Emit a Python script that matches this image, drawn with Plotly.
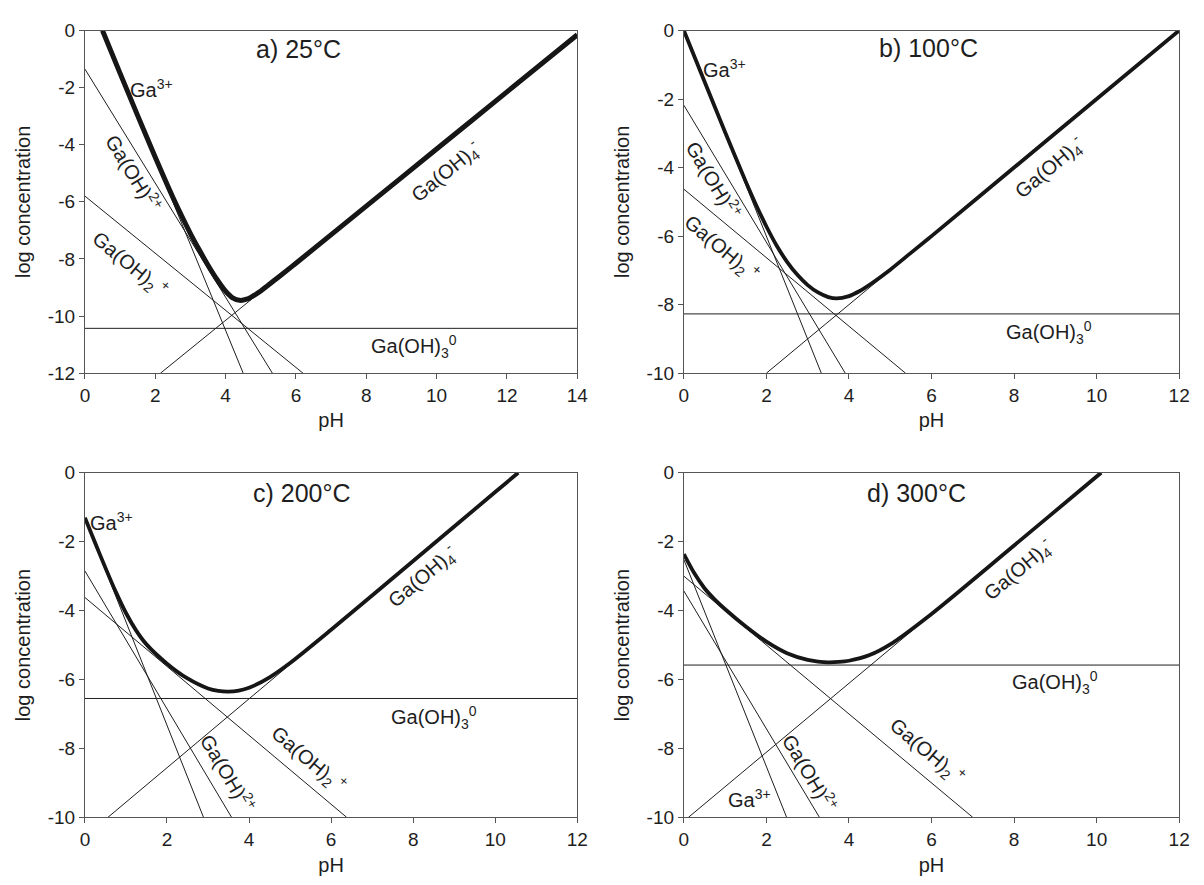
import plotly.graph_objects as go

FONT = "Liberation Sans, Arial, sans-serif"
INK = "#1e1e1e"

# ---------------- data ----------------
# Panel a) 25 °C : species lines given by their two end points
a_ga3_ph, a_ga3_logc = [0.5, 4.5], [0.0, -12.0]
a_gaoh_ph, a_gaoh_logc = [0.0, 5.33], [-1.35, -12.0]
a_gaoh2_ph, a_gaoh2_logc = [0.0, 6.2], [-5.8, -12.0]
a_gaoh3_ph, a_gaoh3_logc = [0.0, 14.0], [-10.43, -10.43]
a_gaoh4_ph, a_gaoh4_logc = [2.15, 14.0], [-12.0, -0.15]
a_total_ph = [0.5, 1.0, 1.5, 2.0, 2.5, 3.0, 3.25, 3.5, 3.75, 4.0, 4.2, 4.4, 4.6,
              4.8, 5.0, 5.2, 5.5, 6.0, 8.0, 10.0, 12.0, 14.0]
a_total_logc = [0.0, -1.5, -2.98, -4.44, -5.84, -7.11, -7.68, -8.22, -8.71, -9.13,
                -9.36, -9.45, -9.41, -9.28, -9.12, -8.93, -8.64, -8.15, -6.15, -4.15,
                -2.15, -0.15]

# Panel b) 100 °C
b_ga3_ph, b_ga3_logc = [0.0, 3.33], [0.0, -10.0]
b_gaoh_ph, b_gaoh_logc = [0.0, 3.91], [-2.18, -10.0]
b_gaoh2_ph, b_gaoh2_logc = [0.0, 5.37], [-4.63, -10.0]
b_gaoh3_ph, b_gaoh3_logc = [0.0, 12.0], [-8.27, -8.27]
b_gaoh4_ph, b_gaoh4_logc = [2.0, 12.0], [-10.0, 0.0]
b_total_ph = [0.0, 0.5, 1.0, 1.5, 1.75, 2.0, 2.25, 2.5, 2.75, 3.0, 3.25, 3.5, 3.7,
              4.0, 4.25, 4.5, 5.0, 5.5, 6.0, 8.0, 10.0, 12.0]
b_total_logc = [0.0, -1.49, -2.97, -4.41, -5.09, -5.72, -6.28, -6.75, -7.13, -7.43,
                -7.645, -7.78, -7.82, -7.75, -7.61, -7.42, -6.98, -6.49, -6.0, -4.0,
                -2.0, 0.0]

# Panel c) 200 °C
c_ga3_ph, c_ga3_logc = [0.0, 2.89], [-1.32, -10.0]
c_gaoh_ph, c_gaoh_logc = [0.0, 3.575], [-2.85, -10.0]
c_gaoh2_ph, c_gaoh2_logc = [0.0, 6.38], [-3.62, -10.0]
c_gaoh3_ph, c_gaoh3_logc = [0.0, 12.0], [-6.55, -6.55]
c_gaoh4_ph, c_gaoh4_logc = [0.56, 10.56], [-10.0, 0.0]
c_total_ph = [0.0, 0.25, 0.5, 0.75, 1.0, 1.25, 1.5, 2.0, 2.5, 3.0, 3.25, 3.5, 3.75,
              4.0, 4.5, 5.0, 6.0, 8.0, 10.0, 10.56]
c_total_logc = [-1.305, -2.04, -2.76, -3.45, -4.07, -4.58, -4.98, -5.54, -5.97, -6.26,
                -6.33, -6.35, -6.32, -6.24, -5.935, -5.52, -4.556, -2.56, -0.56, 0.0]

# Panel d) 300 °C
d_ga3_ph, d_ga3_logc = [0.0, 2.49], [-2.52, -10.0]
d_gaoh_ph, d_gaoh_logc = [0.0, 3.285], [-3.43, -10.0]
d_gaoh2_ph, d_gaoh2_logc = [0.0, 7.0], [-3.0, -10.0]
d_gaoh3_ph, d_gaoh3_logc = [0.0, 12.0], [-5.58, -5.58]
d_gaoh4_ph, d_gaoh4_logc = [0.11, 10.11], [-10.0, 0.0]
d_total_ph = [0.0, 0.25, 0.5, 0.75, 1.0, 1.5, 2.0, 2.5, 3.0, 3.25, 3.5, 3.75, 4.0,
              4.5, 5.0, 6.0, 8.0, 10.0, 10.11]
d_total_logc = [-2.36, -2.91, -3.35, -3.68, -3.96, -4.46, -4.90, -5.235, -5.43, -5.478,
                -5.50, -5.489, -5.455, -5.29, -4.98, -4.096, -2.11, -0.11, 0.0]

panel_titles = ["a) 25°C", "b) 100°C", "c) 200°C", "d) 300°C"]
panel_title_x = [6.06, 5.93, 5.29, 5.64]
panel_title_y = [-0.65, -0.5, -0.59, -0.59]

x_max = [14, 12, 12, 12]
y_min = [-12, -10, -10, -10]
y_tick_vals_a = [0, -2, -4, -6, -8, -10, -12]
y_tick_vals_bcd = [0, -2, -4, -6, -8, -10]

# species label texts
label_texts = ["Ga<sup>3+</sup>", "Ga(OH)<sup>2+</sup>", "Ga(OH)<sub>2</sub><sup> +</sup>",
               "Ga(OH)<sub>3</sub><sup>0</sup>", "Ga(OH)<sub>4</sub><sup>-</sup>"]
# label positions per panel (pH, logC, angle)
lab_a = [(1.88, -2.02, 0), (1.40, -4.99, 58.7), (1.29, -8.2, 39.4), (9.37, -11.08, 0), (10.27, -4.95, -39.4)]
lab_b = [(0.98, -1.11, 0), (0.74, -4.36, 59.2), (0.93, -6.35, 40.0), (8.85, -8.8, 0), (8.85, -3.99, -40.0)]
lab_c = [(0.65, -1.42, 0), (3.51, -8.69, 59.5), (5.46, -8.31, 40.3), (8.5, -7.1, 0), (8.23, -3.0, -40.3)]
lab_d = [(1.58, -9.46, 0), (3.08, -8.69, 59.4), (5.9, -8.1, 40.2), (9.0, -6.1, 0), (8.1, -2.8, -40.2)]

panels = [
    dict(species=[(a_ga3_ph, a_ga3_logc), (a_gaoh_ph, a_gaoh_logc), (a_gaoh2_ph, a_gaoh2_logc),
                  (a_gaoh3_ph, a_gaoh3_logc), (a_gaoh4_ph, a_gaoh4_logc)],
         total=(a_total_ph, a_total_logc), labels=lab_a, width=5.0),
    dict(species=[(b_ga3_ph, b_ga3_logc), (b_gaoh_ph, b_gaoh_logc), (b_gaoh2_ph, b_gaoh2_logc),
                  (b_gaoh3_ph, b_gaoh3_logc), (b_gaoh4_ph, b_gaoh4_logc)],
         total=(b_total_ph, b_total_logc), labels=lab_b, width=3.8),
    dict(species=[(c_ga3_ph, c_ga3_logc), (c_gaoh_ph, c_gaoh_logc), (c_gaoh2_ph, c_gaoh2_logc),
                  (c_gaoh3_ph, c_gaoh3_logc), (c_gaoh4_ph, c_gaoh4_logc)],
         total=(c_total_ph, c_total_logc), labels=lab_c, width=3.8),
    dict(species=[(d_ga3_ph, d_ga3_logc), (d_gaoh_ph, d_gaoh_logc), (d_gaoh2_ph, d_gaoh2_logc),
                  (d_gaoh3_ph, d_gaoh3_logc), (d_gaoh4_ph, d_gaoh4_logc)],
         total=(d_total_ph, d_total_logc), labels=lab_d, width=3.8),
]

# ---------------- layout geometry ----------------
W, H = 1204, 885
x_doms = [(81 / W, 580 / W), (688 / W, 1190 / W), (81 / W, 580 / W), (688 / W, 1190 / W)]
y_doms = [(1 - 372 / H, 1 - 21 / H), (1 - 372 / H, 1 - 21 / H),
          (1 - 827 / H, 1 - 474 / H), (1 - 827 / H, 1 - 474 / H)]

fig = go.Figure()
annotations = []
layout_axes = {}

for i, p in enumerate(panels):
    n = "" if i == 0 else str(i + 1)
    xr, yr = "x" + n, "y" + n
    for (px, py) in p["species"]:
        fig.add_trace(go.Scatter(x=px, y=py, mode="lines", xaxis=xr, yaxis=yr,
                                 line=dict(color=INK, width=1), showlegend=False,
                                 hoverinfo="skip"))
    tx, ty = p["total"]
    fig.add_trace(go.Scatter(x=tx, y=ty, mode="lines", xaxis=xr, yaxis=yr,
                             line=dict(color="#161616", width=p["width"], shape="spline",
                                       smoothing=0.8),
                             showlegend=False, hoverinfo="skip"))
    for text, (lx, ly, ang) in zip(label_texts, p["labels"]):
        annotations.append(dict(x=lx, y=ly, xref=xr, yref=yr, text=text, showarrow=False,
                                textangle=ang, font=dict(family=FONT, size=20, color=INK)))
    annotations.append(dict(x=panel_title_x[i], y=panel_title_y[i], xref=xr, yref=yr,
                            text=panel_titles[i], showarrow=False,
                            font=dict(family=FONT, size=25, color=INK)))
    yt = y_tick_vals_a if i == 0 else y_tick_vals_bcd
    axis_common = dict(showline=True, mirror=True, linecolor="#555", linewidth=1,
                       ticks="outside", ticklen=5, tickcolor="#555", showgrid=False,
                       zeroline=False, tickfont=dict(family=FONT, size=19, color=INK))
    layout_axes["xaxis" + n] = dict(domain=list(x_doms[i]), anchor=yr, range=[0, x_max[i]],
                                    tickvals=list(range(0, x_max[i] + 1, 2)),
                                    title=dict(text="pH", standoff=8,
                                               font=dict(family=FONT, size=20, color=INK)),
                                    **axis_common)
    layout_axes["yaxis" + n] = dict(domain=list(y_doms[i]), anchor=xr, range=[y_min[i], 0],
                                    tickvals=yt, ticktext=[str(v) for v in yt],
                                    title=dict(text="log concentration", standoff=11,
                                               font=dict(family=FONT, size=20, color=INK)),
                                    **axis_common)

fig.update_layout(width=W, height=H, margin=dict(l=0, r=0, t=0, b=0),
                  paper_bgcolor="white", plot_bgcolor="white",
                  annotations=annotations, **layout_axes)

fig.write_html("out.html")
